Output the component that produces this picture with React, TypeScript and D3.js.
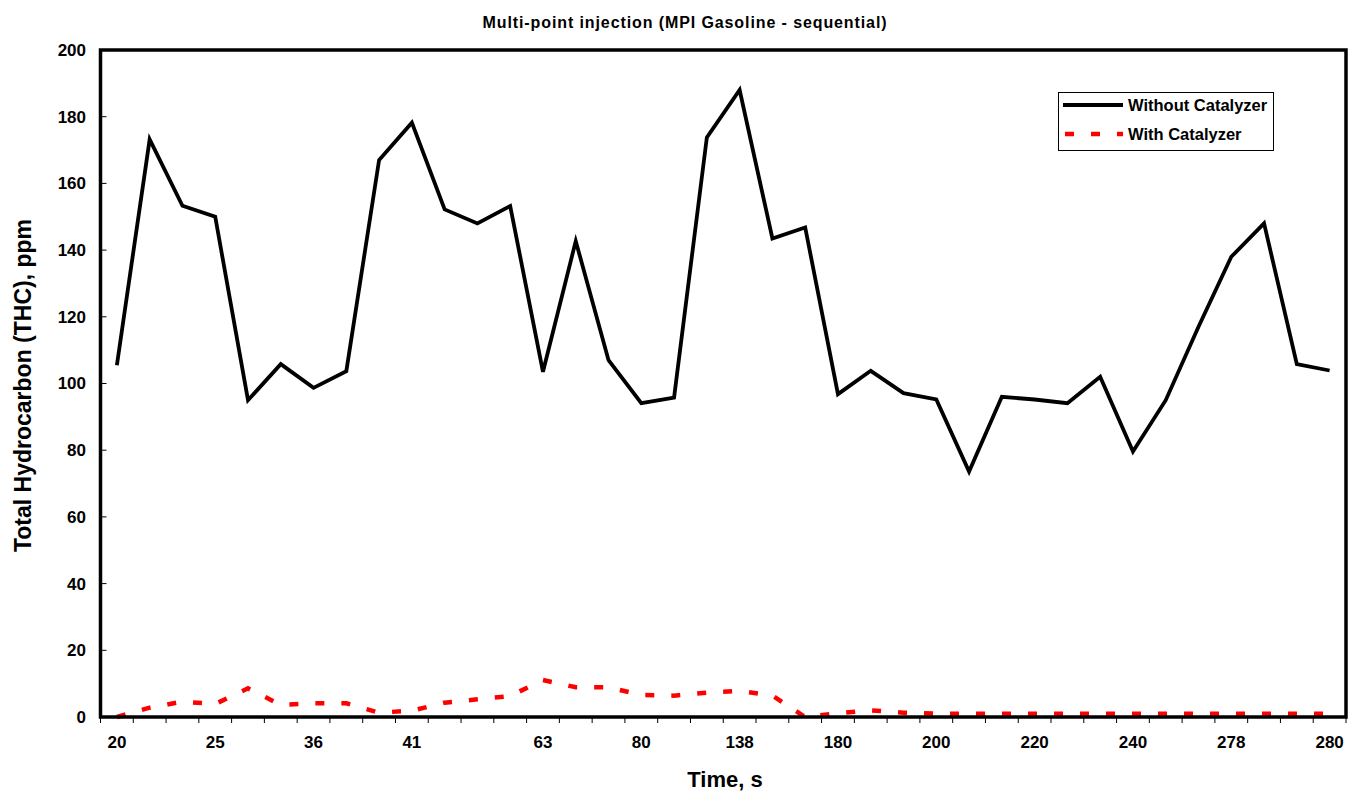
import React from "react";
import * as d3 from "d3";

const timeLabels: string[] = [
  "20", "", "", "25", "", "", "36", "", "", "41", "", "", "", "63", "", "", "80", "", "",
  "138", "", "", "180", "", "", "200", "", "", "220", "", "", "240", "", "", "278", "", "", "280",
];

const withoutCatalyzer: number[] = [
  105.5, 173.2, 153.3, 150, 95, 105.8, 98.7, 103.7, 167, 178.2,
  152.2, 148, 153.2, 103.5, 142.7, 107, 94.1, 95.8, 173.8, 188,
  143.5, 146.8, 96.8, 103.8, 97.1, 95.2, 73.6, 96, 95.2, 94.1,
  102, 79.6, 95, 117, 138, 148, 105.8, 103.9,
];

const withCatalyzer: number[] = [
  0, 2.8, 4.6, 3.9, 8.6, 3.6, 4.1, 4.1, 1.3, 1.9,
  4.3, 5.3, 6.3, 11.1, 8.9, 8.9, 6.6, 6.4, 7.3, 7.8,
  6.4, 0, 1.1, 2, 1.3, 1, 1, 1, 1, 1,
  1, 1, 1, 1, 1, 1, 1, 1,
];

const yTicks: number[] = [0, 20, 40, 60, 80, 100, 120, 140, 160, 180, 200];

const seriesNames = ["Without Catalyzer", "With Catalyzer"];

const W = 1359;
const H = 795;
const left = 100.5;
const right = 1346;
const top = 50;
const bottom = 717;
const FONT = "'Liberation Sans', Arial, Helvetica, sans-serif";

export default function App() {
  const idx = timeLabels.map((_, i) => i);
  const x = d3.scaleBand<number>().domain(idx).range([left, right]).padding(0);
  const cx = (i: number) => (x(i) as number) + x.bandwidth() / 2;
  const y = d3.scaleLinear().domain([0, 200]).range([bottom, top]);

  const line = d3
    .line<number>()
    .x((_, i) => cx(i))
    .y((d) => y(d));

  const boundaries = d3.range(timeLabels.length + 1).map((i) => left + i * x.bandwidth());

  return (
    <svg
      width={W}
      height={H}
      style={{ position: "absolute", left: 0, top: 0, display: "block", background: "#fff" }}
      fontFamily={FONT}
    >
      <rect x={0} y={0} width={W} height={H} fill="#fff" />
      {/* title */}
      <text
        x={685}
        y={28}
        textAnchor="middle"
        fontSize={16}
        letterSpacing={0.9}
        fontWeight="bold"
        fill="#000"
      >
        Multi-point injection (MPI Gasoline - sequential)
      </text>

      {/* y ticks and labels */}
      {yTicks.map((t) => (
        <g key={t}>
          <line x1={left} x2={left + 6} y1={y(t)} y2={y(t)} stroke="#000" strokeWidth={1} />
          <text
            x={86}
            y={y(t)}
            dy="0.35em"
            textAnchor="end"
            fontSize={17}
            fontWeight="bold"
            fill="#000"
          >
            {t}
          </text>
        </g>
      ))}

      {/* x ticks */}
      {boundaries.map((b, i) => (
        <line key={i} x1={b} x2={b} y1={bottom} y2={bottom + 6} stroke="#000" strokeWidth={1} />
      ))}
      {timeLabels.map((l, i) =>
        l ? (
          <text
            key={i}
            x={cx(i)}
            y={742}
            dy="0.35em"
            textAnchor="middle"
            fontSize={17}
            fontWeight="bold"
            fill="#000"
          >
            {l}
          </text>
        ) : null
      )}

      {/* series */}
      <path
        d={line(withoutCatalyzer) || ""}
        fill="none"
        stroke="#000"
        strokeWidth={3.8}
        strokeLinejoin="miter"
      />
      <path
        d={line(withCatalyzer) || ""}
        fill="none"
        stroke="#ff0000"
        strokeWidth={4.5}
        strokeDasharray="9,17"
      />

      {/* frame */}
      <rect
        x={left}
        y={top}
        width={right - left}
        height={bottom - top}
        fill="none"
        stroke="#000"
        strokeWidth={3.5}
      />

      {/* axis titles */}
      <text x={725} y={787} textAnchor="middle" fontSize={22} fontWeight="bold" fill="#000">
        Time, s
      </text>
      <text
        transform={`translate(31,${(top + bottom) / 2 + 2}) rotate(-90)`}
        textAnchor="middle"
        fontSize={23}
        fontWeight="bold"
        fill="#000"
      >
        Total Hydrocarbon (THC), ppm
      </text>

      {/* legend */}
      <rect x={1058.5} y={92.5} width={215} height={58} fill="#fff" stroke="#000" strokeWidth={1} />
      <line x1={1063} x2={1123} y1={105} y2={105} stroke="#000" strokeWidth={3.8} />
      <text x={1128} y={105} dy="0.35em" fontSize={16.5} fontWeight="bold" fill="#000">
        {seriesNames[0]}
      </text>
      <line
        x1={1065}
        x2={1123}
        y1={134}
        y2={134}
        stroke="#ff0000"
        strokeWidth={4.5}
        strokeDasharray="9,17"
      />
      <text x={1128} y={134} dy="0.35em" fontSize={16.5} fontWeight="bold" fill="#000">
        {seriesNames[1]}
      </text>
    </svg>
  );
}
